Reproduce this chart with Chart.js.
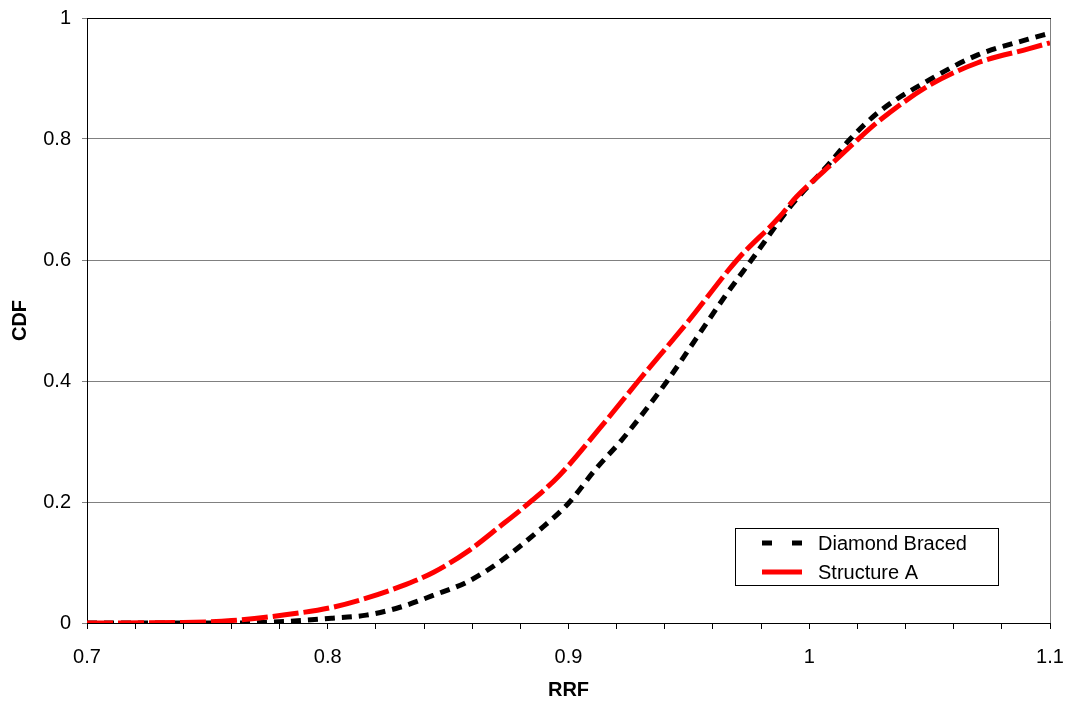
<!DOCTYPE html>
<html>
<head>
<meta charset="utf-8">
<script src="https://cdn.jsdelivr.net/npm/chart.js@4"></script>
<style>
  body { margin: 0; background: #fff; }
  canvas { display: block; }
</style>
</head>
<body>
<canvas id="cdfChart" width="1072" height="704"></canvas>
<script>
// --- DATA ---
const diamondX = [0.7, 0.76, 0.78, 0.802, 0.816, 0.83, 0.844, 0.858, 0.871, 0.888, 0.9, 0.911, 0.922, 0.932, 0.941, 0.953, 0.965, 0.976, 0.9925, 1.008, 1.017, 1.029, 1.05, 1.07, 1.091, 1.1];
const diamondY = [0, 0, 0.002, 0.008, 0.013, 0.026, 0.046, 0.068, 0.1, 0.154, 0.198, 0.253, 0.302, 0.352, 0.4, 0.47, 0.54, 0.6, 0.69, 0.758, 0.8, 0.845, 0.898, 0.939, 0.965, 0.975];

const structAX = [0.7, 0.74, 0.76, 0.788, 0.802, 0.816, 0.83, 0.844, 0.858, 0.871, 0.885, 0.896, 0.913, 0.929, 0.95, 0.97, 0.9876, 0.9946, 1.008, 1.019, 1.029, 1.05, 1.07, 1.091, 1.1];
const structAY = [0, 0.001, 0.004, 0.0165, 0.026, 0.041, 0.06, 0.084, 0.118, 0.158, 0.203, 0.243, 0.322, 0.4, 0.5, 0.6, 0.671, 0.704, 0.754, 0.795, 0.83, 0.889, 0.926, 0.949, 0.959];

const seriesNames = ['Diamond Braced', 'Structure A'];
const xMajorTicks = [0.7, 0.8, 0.9, 1, 1.1];
const xMinorStep = 0.02;
const yTicks = [0, 0.2, 0.4, 0.6, 0.8, 1];

const toPoints = (xs, ys) => xs.map((x, i) => ({ x: x, y: ys[i] }));

// --- PLUGINS ---
const frameLines = {
    id: 'frameLines',
    beforeDatasetsDraw(chart) {
        const { ctx, chartArea: a } = chart;
        ctx.save();
        ctx.lineWidth = 1;
        ctx.strokeStyle = '#808080';
        ctx.beginPath();
        ctx.moveTo(a.right + 0.5, a.top);
        ctx.lineTo(a.right + 0.5, a.bottom);
        ctx.stroke();
        ctx.strokeStyle = '#000';
        ctx.beginPath();
        ctx.moveTo(a.left, a.top + 0.5);
        ctx.lineTo(a.right + 1, a.top + 0.5);
        ctx.stroke();
        ctx.restore();
    }
};

const boxLegend = {
    id: 'boxLegend',
    afterDraw(chart) {
        const ctx = chart.ctx;
        const bx = 735, by = 528, bw = 263, bh = 57;
        ctx.save();
        ctx.fillStyle = '#fff';
        ctx.fillRect(bx, by, bw, bh);
        ctx.strokeStyle = '#000';
        ctx.lineWidth = 1;
        ctx.strokeRect(bx + 0.5, by + 0.5, bw, bh);

        const rows = [
            { ds: chart.data.datasets[0], y: 543, dash: [10, 20] },
            { ds: chart.data.datasets[1], y: 572, dash: [] }
        ];
        rows.forEach(r => {
            ctx.strokeStyle = r.ds.borderColor;
            ctx.lineWidth = 5;
            ctx.setLineDash(r.dash);
            ctx.beginPath();
            ctx.moveTo(762, r.y);
            ctx.lineTo(802, r.y);
            ctx.stroke();
            ctx.setLineDash([]);
            ctx.fillStyle = '#000';
            ctx.font = '20px "Liberation Sans", Arial, sans-serif';
            ctx.textBaseline = 'middle';
            ctx.fillText(r.ds.label, 818, r.y + 1);
        });
        ctx.restore();
    }
};

// --- CHART ---
Chart.defaults.font.family = '"Liberation Sans", Arial, sans-serif';
Chart.defaults.color = '#000';

new Chart(document.getElementById('cdfChart'), {
    type: 'scatter',
    data: {
        datasets: [
            {
                label: seriesNames[0],
                data: toPoints(diamondX, diamondY),
                showLine: true,
                borderColor: '#000000',
                borderWidth: 5,
                borderDash: [10, 7],
                pointRadius: 0,
                cubicInterpolationMode: 'monotone',
                order: 1
            },
            {
                label: seriesNames[1],
                data: toPoints(structAX, structAY),
                showLine: true,
                borderColor: '#FF0000',
                borderWidth: 5,
                borderDash: [26, 5],
                pointRadius: 0,
                cubicInterpolationMode: 'monotone',
                order: 0
            }
        ]
    },
    options: {
        responsive: false,
        animation: false,
        layout: { padding: { top: 18, right: 22, left: 0, bottom: 0 } },
        plugins: { legend: { display: false }, tooltip: { enabled: false } },
        scales: {
            x: {
                type: 'linear',
                min: 0.7,
                max: 1.1,
                afterBuildTicks: (axis) => {
                    const ticks = [];
                    for (let i = 0; i <= 20; i++) ticks.push({ value: +(0.7 + i * xMinorStep).toFixed(2) });
                    axis.ticks = ticks;
                },
                afterFit: (axis) => {
                    axis.height = 81;
                    axis.paddingLeft = 0;
                    axis.paddingRight = 0;
                },
                ticks: {
                    autoSkip: false,
                    maxRotation: 0,
                    padding: 16,
                    font: { size: 20 },
                    callback: (v) => xMajorTicks.some(t => Math.abs(t - v) < 1e-6) ? String(+v.toFixed(1)) : ''
                },
                grid: { display: true, drawOnChartArea: false, drawTicks: true, tickLength: 6, color: '#000' },
                border: { color: '#000', width: 1 },
                title: { display: true, text: 'RRF', font: { size: 20, weight: 'bold' }, padding: { top: 0, bottom: 2 } }
            },
            y: {
                min: 0,
                max: 1,
                afterBuildTicks: (axis) => { axis.ticks = yTicks.map(v => ({ value: v })); },
                afterFit: (axis) => {
                    axis.width = 87;
                    axis.paddingTop = 0;
                    axis.paddingBottom = 0;
                },
                ticks: {
                    padding: 11,
                    font: { size: 20 },
                    callback: (v) => String(+v.toFixed(1))
                },
                grid: { color: '#808080', tickLength: 5, lineWidth: 1 },
                border: { color: '#000', width: 1 },
                title: { display: true, text: 'CDF', font: { size: 20, weight: 'bold' }, padding: { top: 8, bottom: 0 } }
            }
        }
    },
    plugins: [frameLines, boxLegend]
});
</script>
</body>
</html>
